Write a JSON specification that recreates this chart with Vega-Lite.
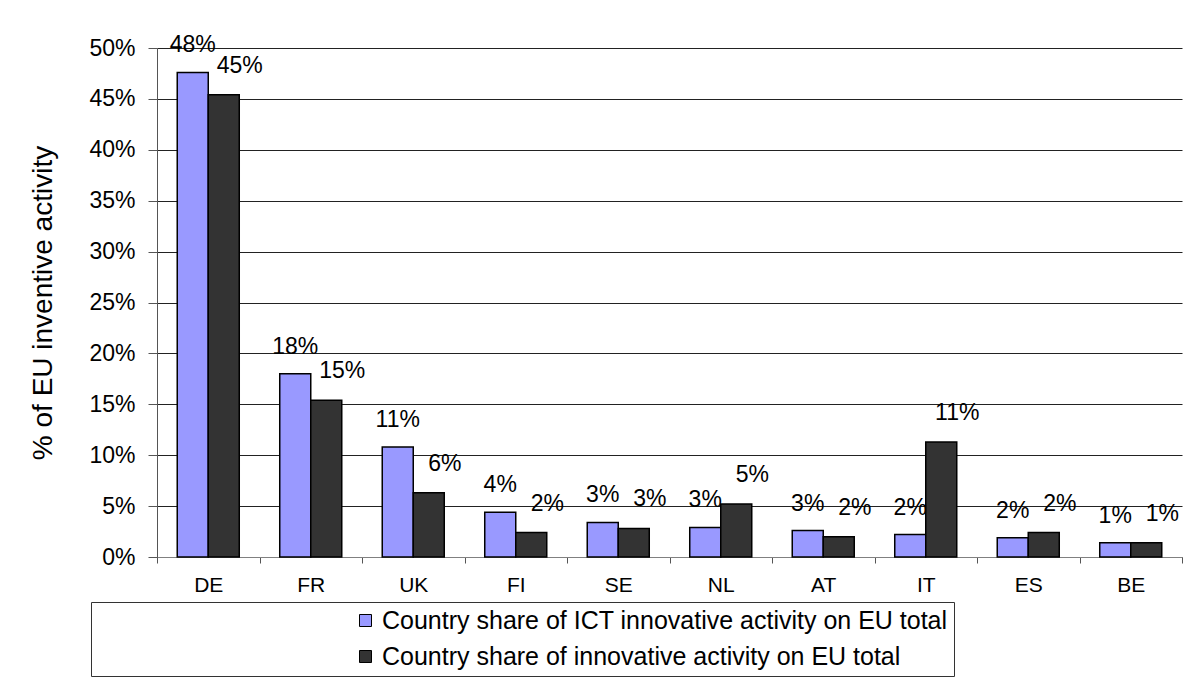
{
  "$schema": "https://vega.github.io/schema/vega-lite/v6.json",
  "width": 1025,
  "height": 509,
  "autosize": {"type": "none"},
  "padding": {"left": 157, "top": 48, "right": 8, "bottom": 122},
  "background": "white",
  "config": {"font": "Liberation Sans", "view": {"stroke": null}},
  "data": {
    "values": [
      {"country": "DE", "series": "Country share of ICT innovative activity on EU total", "value": 0.476},
      {"country": "DE", "series": "Country share of innovative activity on EU total", "value": 0.454},
      {"country": "FR", "series": "Country share of ICT innovative activity on EU total", "value": 0.180},
      {"country": "FR", "series": "Country share of innovative activity on EU total", "value": 0.154},
      {"country": "UK", "series": "Country share of ICT innovative activity on EU total", "value": 0.108},
      {"country": "UK", "series": "Country share of innovative activity on EU total", "value": 0.063},
      {"country": "FI", "series": "Country share of ICT innovative activity on EU total", "value": 0.044},
      {"country": "FI", "series": "Country share of innovative activity on EU total", "value": 0.024},
      {"country": "SE", "series": "Country share of ICT innovative activity on EU total", "value": 0.034},
      {"country": "SE", "series": "Country share of innovative activity on EU total", "value": 0.028},
      {"country": "NL", "series": "Country share of ICT innovative activity on EU total", "value": 0.029},
      {"country": "NL", "series": "Country share of innovative activity on EU total", "value": 0.052},
      {"country": "AT", "series": "Country share of ICT innovative activity on EU total", "value": 0.026},
      {"country": "AT", "series": "Country share of innovative activity on EU total", "value": 0.020},
      {"country": "IT", "series": "Country share of ICT innovative activity on EU total", "value": 0.022},
      {"country": "IT", "series": "Country share of innovative activity on EU total", "value": 0.113},
      {"country": "ES", "series": "Country share of ICT innovative activity on EU total", "value": 0.019},
      {"country": "ES", "series": "Country share of innovative activity on EU total", "value": 0.024},
      {"country": "BE", "series": "Country share of ICT innovative activity on EU total", "value": 0.014},
      {"country": "BE", "series": "Country share of innovative activity on EU total", "value": 0.014}
    ]
  },
  "encoding": {
    "x": {
      "field": "country",
      "type": "nominal",
      "sort": null,
      "scale": {"paddingInner": 0, "paddingOuter": 0},
      "axis": {
        "title": null,
        "labelAngle": 0,
        "tickBand": "extent",
        "tickSize": 6,
        "tickColor": "#555555",
        "domainColor": "#808080",
        "labelFontSize": 21,
        "labelPadding": 11,
        "labelColor": "black",
        "grid": false
      }
    },
    "xOffset": {
      "field": "series",
      "type": "nominal",
      "scale": {
        "domain": ["Country share of ICT innovative activity on EU total", "Country share of innovative activity on EU total"],
        "paddingInner": 0,
        "paddingOuter": 0.653
      }
    },
    "y": {
      "field": "value",
      "type": "quantitative",
      "scale": {"domain": [0, 0.5], "nice": false},
      "axis": {
        "values": [0, 0.05, 0.1, 0.15, 0.2, 0.25, 0.3, 0.35, 0.4, 0.45, 0.5],
        "format": ".0%",
        "grid": true,
        "gridColor": "#222222",
        "gridWidth": 1,
        "domainColor": "#555555",
        "tickColor": "#555555",
        "tickSize": 9,
        "labelFontSize": 23,
        "labelPadding": 13,
        "labelColor": "black",
        "title": "% of EU inventive activity",
        "titleFontSize": 28,
        "titleFontWeight": "normal",
        "titleColor": "black",
        "titlePadding": 31
      }
    }
  },
  "layer": [
    {
      "mark": {"type": "bar", "stroke": "black", "strokeWidth": 1.5},
      "encoding": {
        "color": {
          "field": "series",
          "type": "nominal",
          "scale": {
            "domain": ["Country share of ICT innovative activity on EU total", "Country share of innovative activity on EU total"],
            "range": ["#9999FF", "#333333"]
          },
          "legend": {
            "orient": "none",
            "legendX": -66,
            "legendY": 554,
            "title": null,
            "direction": "vertical",
            "symbolType": "square",
            "symbolSize": 144,
            "symbolStrokeColor": "black",
            "symbolStrokeWidth": 1,
            "symbolOffset": 256,
            "labelFontSize": 25,
            "labelOffset": 4,
            "labelLimit": 1000,
            "labelColor": "black",
            "rowPadding": 10,
            "padding": 6,
            "strokeColor": "#333333",
            "fillColor": "white"
          }
        }
      }
    },
    {
      "transform": [{"filter": "datum.series === 'Country share of ICT innovative activity on EU total'"}],
      "mark": {"type": "text", "baseline": "alphabetic", "dy": -20, "fontSize": 23, "color": "black"},
      "encoding": {"text": {"field": "value", "type": "quantitative", "format": ".0%"}}
    },
    {
      "transform": [{"filter": "datum.series === 'Country share of innovative activity on EU total'"}],
      "mark": {"type": "text", "baseline": "alphabetic", "dy": -22, "dx": 16, "fontSize": 23, "color": "black"},
      "encoding": {"text": {"field": "value", "type": "quantitative", "format": ".0%"}}
    }
  ]
}
